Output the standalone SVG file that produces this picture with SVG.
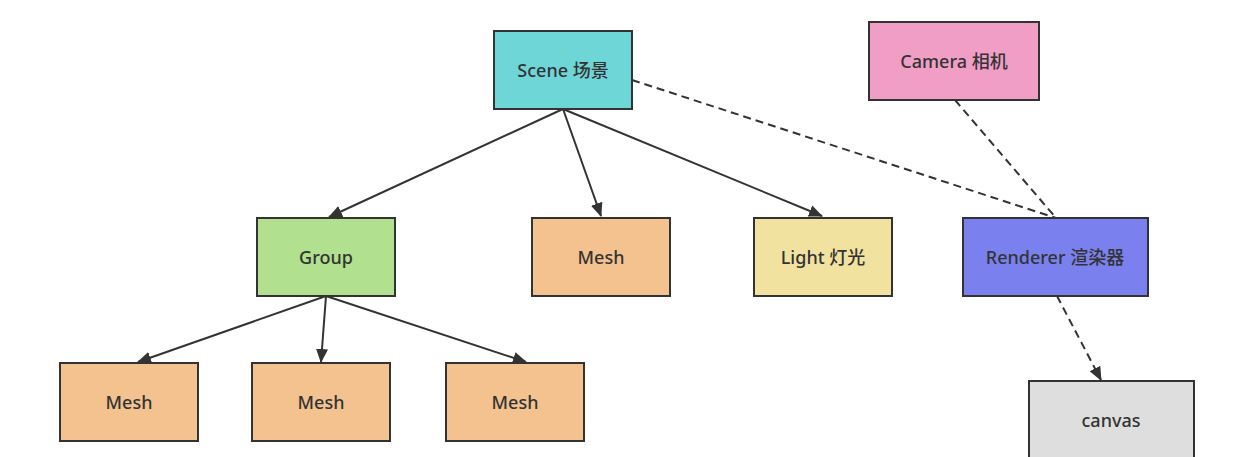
<svg xmlns="http://www.w3.org/2000/svg" width="1252" height="457" viewBox="0 0 1252 457">
<style>
.n{stroke:#333;stroke-width:2}
.t{font-family:"Noto Sans","Noto Sans CJK SC",sans-serif;font-size:18px;font-weight:500;fill:#333;text-anchor:middle;dominant-baseline:central}
.e{stroke:#333;stroke-width:2;fill:none}
.d{stroke-dasharray:8 5}
</style>
<defs>
<marker id="a" viewBox="0 0 14 14" refX="13" refY="7" markerWidth="14" markerHeight="14" markerUnits="userSpaceOnUse" orient="auto">
<path d="M0,1 L14,7 L0,13 Z" fill="#333"/>
</marker>
</defs>
<rect width="1252" height="457" fill="#fff"/>
<g id="connectors">
<line class="e" x1="563" y1="109" x2="329" y2="217" marker-end="url(#a)"/>
<line class="e" x1="563" y1="109" x2="601" y2="216" marker-end="url(#a)"/>
<line class="e" x1="563" y1="109" x2="822" y2="216" marker-end="url(#a)"/>
<line class="e" x1="326" y1="296" x2="138" y2="362" marker-end="url(#a)"/>
<line class="e" x1="326" y1="296" x2="321" y2="362" marker-end="url(#a)"/>
<line class="e" x1="326" y1="296" x2="526" y2="362" marker-end="url(#a)"/>
<line class="e d" x1="632" y1="80" x2="1056" y2="218"/>
<line class="e d" x1="955" y1="100" x2="1056" y2="218"/>
<line class="e d" x1="1057" y1="296" x2="1101" y2="380" marker-end="url(#a)"/>
</g>
<g id="scene"><rect class="n" x="494" y="31" width="138" height="78" fill="#6fd6d8"/><text class="t" x="563" y="70">Scene 场景</text></g>
<g id="camera"><rect class="n" x="869" y="22" width="170" height="78" fill="#f19ec6"/><text class="t" x="954" y="61">Camera 相机</text></g>
<g id="group"><rect class="n" x="257" y="218" width="138" height="78" fill="#b1e08f"/><text class="t" x="326" y="257">Group</text></g>
<g id="mesh"><rect class="n" x="532" y="218" width="138" height="78" fill="#f3c28f"/><text class="t" x="601" y="257">Mesh</text></g>
<g id="light"><rect class="n" x="754" y="218" width="138" height="78" fill="#f2e2a0"/><text class="t" x="823" y="257">Light 灯光</text></g>
<g id="renderer"><rect class="n" x="963" y="218" width="185" height="78" fill="#7a81ee"/><text class="t" x="1055" y="257">Renderer 渲染器</text></g>
<g id="mesh1"><rect class="n" x="60" y="363" width="138" height="78" fill="#f3c28f"/><text class="t" x="129" y="402">Mesh</text></g>
<g id="mesh2"><rect class="n" x="252" y="363" width="138" height="78" fill="#f3c28f"/><text class="t" x="321" y="402">Mesh</text></g>
<g id="mesh3"><rect class="n" x="446" y="363" width="138" height="78" fill="#f3c28f"/><text class="t" x="515" y="402">Mesh</text></g>
<g id="canvas"><rect class="n" x="1029" y="381" width="165" height="90" fill="#dedede"/><text class="t" x="1111" y="420">canvas</text></g>
</svg>
